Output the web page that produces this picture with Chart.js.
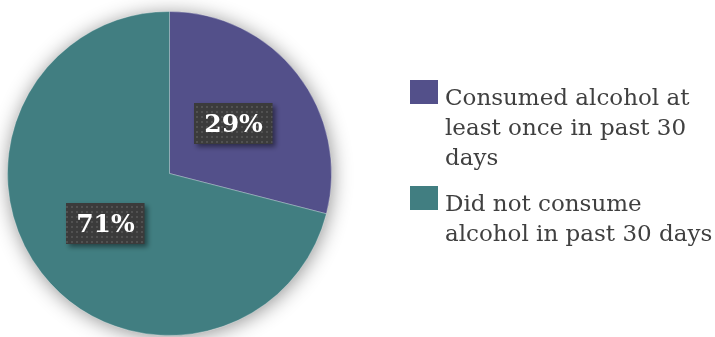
<!DOCTYPE html>
<html>
<head>
<meta charset="utf-8">
<script src="https://cdn.jsdelivr.net/npm/chart.js@4.4.1/dist/chart.umd.min.js"></script>
<style>
  html, body { margin: 0; padding: 0; background: #fff; }
  #wrap { width: 715px; height: 337px; position: relative; }
</style>
</head>
<body>
<div id="wrap"><canvas id="pie" width="715" height="337"></canvas></div>
<script>
// Datos
const categories = [
  ['Consumed alcohol at', 'least once in past 30', 'days'],
  ['Did not consume', 'alcohol in past 30 days']
];
const values = [29, 71];
const pctLabels = ['29%', '71%'];

const colors = ['#53508a', '#417e81'];
const serif = "Georgia, 'DejaVu Serif', serif";

// sombra suave detras del pastel
const pieShadow = {
  id: 'pieShadow',
  beforeDatasetsDraw(chart) {
    const arc = chart.getDatasetMeta(0).data[0];
    if (!arc) return;
    const c = chart.ctx;
    c.save();
    c.shadowColor = 'rgba(0,0,0,0.45)';
    c.shadowBlur = 20;
    c.shadowOffsetX = 1;
    c.shadowOffsetY = 2;
    c.fillStyle = colors[1];
    c.beginPath();
    c.arc(arc.x, arc.y, arc.outerRadius - 0.5, 0, Math.PI * 2);
    c.fill();
    c.restore();
  }
};

// patron de puntos para las etiquetas
function dotPattern(c) {
  const p = document.createElement('canvas');
  p.width = 5; p.height = 5;
  const pc = p.getContext('2d');
  pc.fillStyle = '#3b3b3b';
  pc.fillRect(0, 0, 5, 5);
  pc.fillStyle = '#515151';
  pc.fillRect(1, 1, 2, 2);
  return c.createPattern(p, 'repeat');
}

// etiquetas de porcentaje
const sliceLabels = {
  id: 'sliceLabels',
  afterDatasetsDraw(chart) {
    const c = chart.ctx;
    const pat = dotPattern(c);
    chart.getDatasetMeta(0).data.forEach((arc, i) => {
      const pt = arc.getCenterPoint();
      c.save();
      c.font = 'bold 25px ' + serif;
      const w = c.measureText(pctLabels[i]).width + 20;
      const h = 41;
      const x = Math.round(pt.x - w / 2), y = Math.round(pt.y - h / 2);
      c.shadowColor = 'rgba(0,0,0,0.45)';
      c.shadowBlur = 5;
      c.shadowOffsetX = 3;
      c.shadowOffsetY = 3;
      c.fillStyle = pat;
      c.fillRect(x, y, w, h);
      c.restore();
      c.save();
      c.font = 'bold 25px ' + serif;
      c.fillStyle = '#ffffff';
      c.textAlign = 'center';
      c.textBaseline = 'middle';
      c.fillText(pctLabels[i], pt.x, pt.y + 2);
      c.restore();
    });
  }
};

// leyenda a la derecha
const sideLegend = {
  id: 'sideLegend',
  afterDraw(chart) {
    const c = chart.ctx;
    const tops = [80, 186];
    c.save();
    c.font = '23px ' + serif;
    c.textBaseline = 'alphabetic';
    categories.forEach((lines, i) => {
      c.fillStyle = colors[i];
      c.fillRect(410, tops[i], 28, 24);
      c.fillStyle = '#404040';
      lines.forEach((ln, j) => {
        c.fillText(ln, 445, tops[i] + 25 + j * 30);
      });
    });
    c.restore();
  }
};

new Chart(document.getElementById('pie').getContext('2d'), {
  type: 'pie',
  data: {
    labels: categories,
    datasets: [{
      data: values,
      backgroundColor: colors,
      borderColor: 'rgba(255,255,255,0.3)',
      borderWidth: 1
    }]
  },
  options: {
    responsive: false,
    animation: false,
    layout: { padding: { left: 7, top: 11, right: 383, bottom: 1 } },
    plugins: {
      legend: { display: false },
      tooltip: { enabled: false }
    }
  },
  plugins: [pieShadow, sliceLabels, sideLegend]
});
</script>
</body>
</html>
